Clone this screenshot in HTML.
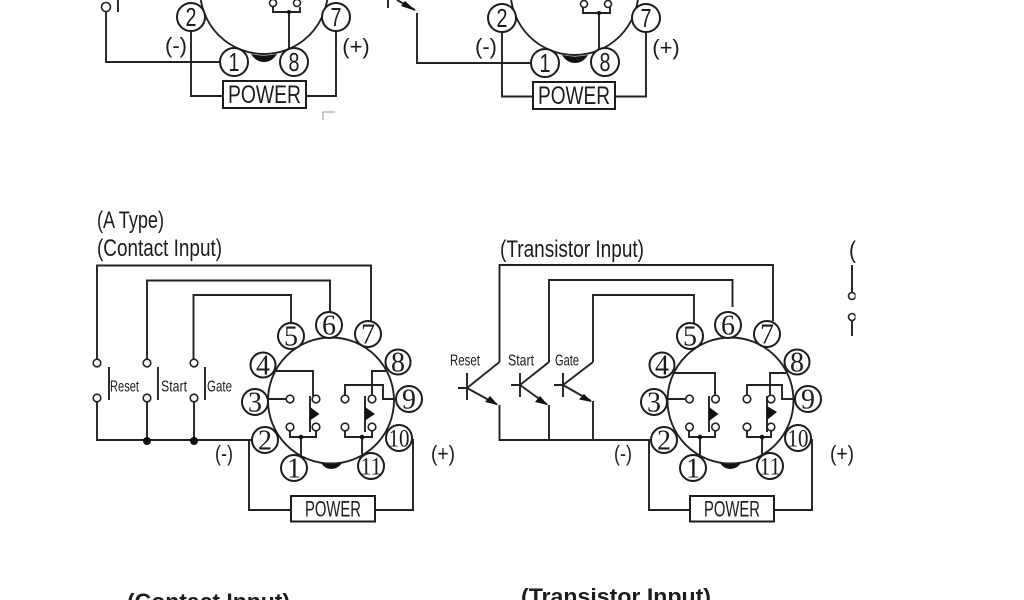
<!DOCTYPE html>
<html><head><meta charset="utf-8"><style>
html,body{margin:0;padding:0;background:#fff;width:1024px;height:600px;overflow:hidden}
svg{display:block}
.w{fill:none;stroke:#222;stroke-width:1.9}
.c{fill:#fff;stroke:#222;stroke-width:1.9}
.p{fill:#fff;stroke:#1c1c1c;stroke-width:2}
.o{fill:#fff;stroke:#222;stroke-width:1.6}
.f{fill:#111;stroke:none}
text{fill:#1c1c1c;font-family:"Liberation Sans",sans-serif}
.n{font-family:"Liberation Serif",serif;font-size:28px;text-anchor:middle}
.n2{font-family:"Liberation Serif",serif;font-size:25px;text-anchor:middle}
.t{font-size:26px}
.l{font-size:24px}
.s{font-size:16px}
.pw{font-size:25px}
.pw2{font-size:22px}
.m{font-size:22px;text-anchor:middle}
</style></head><body>
<svg width="1024" height="600" viewBox="0 0 1024 600" xmlns="http://www.w3.org/2000/svg">
<rect width="1024" height="600" fill="#fff"/>

<!-- top left fragment -->
<g>
<circle class="w" cx="264" cy="-10" r="64"/>
<path class="f" d="M251 54Q264 57 277 54Q272 62 264 62Q256 62 251 54Z"/>
<path class="w" d="M106 12V62H221M191 31V96H223M306 96H336V31M289 12V48M273 7V12H300V7M118 0V12"/>
<path d="M323 120V112H335" fill="none" stroke="#999" stroke-width="1"/>
<circle class="o" cx="106" cy="7" r="4.500"/>
<circle class="o" cx="273" cy="3" r="3.500"/><circle class="o" cx="297" cy="3" r="3.500"/>
<circle class="f" cx="289" cy="12" r="2"/>
<circle class="p" cx="191" cy="17" r="14"/><text class="t" x="191" y="26" text-anchor="middle" textLength="11" lengthAdjust="spacingAndGlyphs">2</text>
<circle class="p" cx="336" cy="17" r="14"/><text class="t" x="336" y="26" text-anchor="middle" textLength="11" lengthAdjust="spacingAndGlyphs">7</text>
<circle class="p" cx="234" cy="62" r="14"/><text class="t" x="234" y="71" text-anchor="middle" textLength="11" lengthAdjust="spacingAndGlyphs">1</text>
<circle class="p" cx="294" cy="62" r="14"/><text class="t" x="294" y="71" text-anchor="middle" textLength="11" lengthAdjust="spacingAndGlyphs">8</text>
<rect class="p" x="223" y="81" width="83" height="27"/>
<text class="pw" x="228" y="103" textLength="73" lengthAdjust="spacingAndGlyphs">POWER</text>
<text class="m" x="176" y="53">(-)</text><text class="m" x="356" y="54">(+)</text>
</g>

<!-- top right fragment -->
<g>
<circle class="w" cx="574.500" cy="-9" r="64"/>
<path class="f" d="M562 55Q575 58 588 55Q583 63 575 63Q567 63 562 55Z"/>
<path class="w" d="M397 0L415 10M417 13V63H531M502 32V96.500H533M615 96.500H646V32M599 12V49M583 7V13H610V7M388 0V8"/>
<path class="f" d="M405 1L416 11L401 6Z"/>
<circle class="o" cx="584" cy="4" r="3.500"/><circle class="o" cx="608" cy="4" r="3.500"/>
<circle class="f" cx="599" cy="13" r="2"/>
<circle class="p" cx="502" cy="18" r="14"/><text class="t" x="502" y="27" text-anchor="middle" textLength="11" lengthAdjust="spacingAndGlyphs">2</text>
<circle class="p" cx="646" cy="18" r="14"/><text class="t" x="646" y="27" text-anchor="middle" textLength="11" lengthAdjust="spacingAndGlyphs">7</text>
<circle class="p" cx="545" cy="63" r="14"/><text class="t" x="545" y="72" text-anchor="middle" textLength="11" lengthAdjust="spacingAndGlyphs">1</text>
<circle class="p" cx="605" cy="62" r="14"/><text class="t" x="605" y="71" text-anchor="middle" textLength="11" lengthAdjust="spacingAndGlyphs">8</text>
<rect class="p" x="533" y="82" width="82" height="27"/>
<text class="pw" x="538" y="104" textLength="72" lengthAdjust="spacingAndGlyphs">POWER</text>
<text class="m" x="486" y="54">(-)</text><text class="m" x="666" y="55">(+)</text>
</g>

<!-- titles -->
<text class="l" x="97" y="228" textLength="67" lengthAdjust="spacingAndGlyphs">(A Type)</text>
<text class="l" x="97" y="256" textLength="125" lengthAdjust="spacingAndGlyphs">(Contact Input)</text>
<text class="l" x="500" y="257" textLength="144" lengthAdjust="spacingAndGlyphs">(Transistor Input)</text>
<text class="l" x="849" y="258" textLength="7" lengthAdjust="spacingAndGlyphs">(</text>

<!-- A type contact -->
<path class="w" d="M97 360V265.500H371V322M147 360V280.500H330V312M193.500 360V295H291V323"/>
<path class="w" d="M97 402V440H252M147 402V440M194 402V440"/>
<path class="w" d="M109 367V400M158 367V400M205 367V400"/>
<circle class="o" cx="97" cy="363" r="3.800"/><circle class="o" cx="147" cy="363" r="3.800"/><circle class="o" cx="194" cy="363" r="3.800"/>
<circle class="o" cx="97" cy="398" r="3.800"/><circle class="o" cx="147" cy="398" r="3.800"/><circle class="o" cx="194" cy="398" r="3.800"/>
<circle class="f" cx="147" cy="441" r="4"/><circle class="f" cx="194" cy="441" r="4"/>
<text class="s" x="110" y="391.500" textLength="29" lengthAdjust="spacingAndGlyphs">Reset</text>
<text class="s" x="161" y="391.500" textLength="26" lengthAdjust="spacingAndGlyphs">Start</text>
<text class="s" x="207" y="391.500" textLength="25" lengthAdjust="spacingAndGlyphs">Gate</text>
<text class="m" x="224" y="461" textLength="18" lengthAdjust="spacingAndGlyphs">(-)</text><text class="m" x="443" y="461" textLength="24" lengthAdjust="spacingAndGlyphs">(+)</text>

<!-- socket A -->
<g>
<circle class="c" cx="331" cy="400.500" r="63"/>
<path class="f" d="M321 463Q331 465 342 463Q338 469 331 469Q325 469 321 463Z"/>
<path class="w" d="M275 371H313V396M268 399H286M310 396V432M290 431V437H316V431M301 437V455"/>
<path class="w" d="M387 371H372V396M395 399H383V385H345V396M365 396V432M345 431V437H372V431M362 437V454"/>
<path class="f" d="M310 407L319.500 414L310 420.500Z"/><path class="f" d="M365 407L375 414L365 420.500Z"/>
<circle class="f" cx="301" cy="437" r="2.300"/><circle class="f" cx="362" cy="437" r="2.300"/>
<circle class="o" cx="290" cy="399" r="3.800"/><circle class="o" cx="316" cy="399" r="3.800"/><circle class="o" cx="290" cy="427" r="3.800"/><circle class="o" cx="316" cy="427" r="3.800"/>
<circle class="o" cx="345" cy="399" r="3.800"/><circle class="o" cx="372" cy="399" r="3.800"/><circle class="o" cx="345" cy="427" r="3.800"/><circle class="o" cx="372" cy="427" r="3.800"/>
<path class="w" d="M249 440V510H291M375 510H413V440H411"/>
<circle class="p" cx="291" cy="336" r="13"/><text class="n" x="291" y="345.500">5</text>
<circle class="p" cx="329" cy="325" r="13"/><text class="n" x="329" y="334.500">6</text>
<circle class="p" cx="368" cy="334" r="13"/><text class="n" x="368" y="343.500">7</text>
<circle class="p" cx="263" cy="365" r="12.500"/><text class="n" x="263" y="374.500">4</text>
<circle class="p" cx="398" cy="362" r="12.500"/><text class="n" x="398" y="371.500">8</text>
<circle class="p" cx="255" cy="402" r="13"/><text class="n" x="255" y="411.500">3</text>
<circle class="p" cx="409" cy="399" r="13"/><text class="n" x="409" y="408.500">9</text>
<circle class="p" cx="265" cy="440" r="13"/><text class="n" x="265" y="449.500">2</text>
<circle class="p" cx="399" cy="438" r="13"/><text class="n2" x="399" y="446.500" textLength="21" lengthAdjust="spacingAndGlyphs">10</text>
<circle class="p" cx="294" cy="468" r="13"/><text class="n" x="294" y="477.500">1</text>
<circle class="p" cx="371" cy="466" r="13"/><text class="n2" x="371" y="474.500" textLength="21" lengthAdjust="spacingAndGlyphs">11</text>
<rect class="p" x="291" y="496" width="84" height="25.500"/>
<text class="pw2" x="305" y="516.500" textLength="56" lengthAdjust="spacingAndGlyphs">POWER</text>
</g>

<!-- transistor -->
<path class="w" d="M499.500 362V265H773V321M549 362V280H732.500V307M593 362V295H694V323"/>
<path class="w" d="M458 388H467M467 373V400M467 388L499.500 362M467 388L497 404.500M499.500 405V440H652"/>
<path class="w" d="M511 385H520M520 373V397M520 385L549 362M520 385L547 404.500M549 405V440"/>
<path class="w" d="M554 385H563M563 373V397M563 385L593 362M563 385L591 401M593 401V440"/>
<path class="f" d="M490 396L498 405L485 402Z"/><path class="f" d="M540 396L548 405L535 402Z"/><path class="f" d="M584 394L592 402L579 399.500Z"/>
<text class="s" x="450" y="365.500" textLength="30" lengthAdjust="spacingAndGlyphs">Reset</text>
<text class="s" x="508" y="365.500" textLength="26" lengthAdjust="spacingAndGlyphs">Start</text>
<text class="s" x="555" y="365.500" textLength="24" lengthAdjust="spacingAndGlyphs">Gate</text>
<text class="m" x="623" y="461" textLength="18" lengthAdjust="spacingAndGlyphs">(-)</text><text class="m" x="842" y="461" textLength="24" lengthAdjust="spacingAndGlyphs">(+)</text>

<!-- socket B -->
<g>
<circle class="c" cx="730.500" cy="400.500" r="63"/>
<path class="f" d="M720 463Q730 465 741 463Q737 469 730 469Q724 469 720 463Z"/>
<path class="w" d="M674 373H715V396M667 399H685M709 396V432M689 431V437H715V431M700 437V455"/>
<path class="w" d="M786 373H770V396M794 399H782V385H747V396M767 396V432M747 431V437H771V431M762 437V454"/>
<path class="f" d="M709 407L718.500 414L709 421Z"/><path class="f" d="M767 406L777 412L767 420Z"/>
<circle class="f" cx="700" cy="437" r="2.300"/><circle class="f" cx="762" cy="437" r="2.300"/>
<circle class="o" cx="689.500" cy="399" r="3.800"/><circle class="o" cx="715.500" cy="399" r="3.800"/><circle class="o" cx="689.500" cy="427" r="3.800"/><circle class="o" cx="715.500" cy="427" r="3.800"/>
<circle class="o" cx="747" cy="399" r="3.800"/><circle class="o" cx="771" cy="399" r="3.800"/><circle class="o" cx="747" cy="427" r="3.800"/><circle class="o" cx="771" cy="427" r="3.800"/>
<path class="w" d="M649 440V510H690M775 510H812V440H810"/>
<circle class="p" cx="690" cy="336" r="13"/><text class="n" x="690" y="345.500">5</text>
<circle class="p" cx="728" cy="325" r="13"/><text class="n" x="728" y="334.500">6</text>
<circle class="p" cx="767" cy="334" r="13"/><text class="n" x="767" y="343.500">7</text>
<circle class="p" cx="662" cy="365" r="12.500"/><text class="n" x="662" y="374.500">4</text>
<circle class="p" cx="797" cy="362" r="12.500"/><text class="n" x="797" y="371.500">8</text>
<circle class="p" cx="654" cy="402" r="13"/><text class="n" x="654" y="411.500">3</text>
<circle class="p" cx="808" cy="399" r="13"/><text class="n" x="808" y="408.500">9</text>
<circle class="p" cx="664" cy="440" r="13"/><text class="n" x="664" y="449.500">2</text>
<circle class="p" cx="798" cy="438" r="13"/><text class="n2" x="798" y="446.500" textLength="21" lengthAdjust="spacingAndGlyphs">10</text>
<circle class="p" cx="693" cy="468" r="13"/><text class="n" x="693" y="477.500">1</text>
<circle class="p" cx="770" cy="466" r="13"/><text class="n2" x="770" y="474.500" textLength="21" lengthAdjust="spacingAndGlyphs">11</text>
<rect class="p" x="690" y="496" width="84" height="25.500"/>
<text class="pw2" x="704" y="516.500" textLength="56" lengthAdjust="spacingAndGlyphs">POWER</text>
</g>

<!-- clipped right fragment -->
<path class="w" d="M852 265V293M852 320V336"/>
<circle class="o" cx="852" cy="296" r="3.500"/><circle class="o" cx="852" cy="317" r="3.500"/>
<rect x="855.500" y="230" width="30" height="115" fill="#fff"/>

<!-- bottom titles -->
<text x="127" y="609" style="font-size:22px;font-weight:bold" textLength="163" lengthAdjust="spacingAndGlyphs">(Contact Input)</text>
<text x="521" y="604" style="font-size:22px;font-weight:bold" textLength="190" lengthAdjust="spacingAndGlyphs">(Transistor Input)</text>
</svg>
</body></html>
